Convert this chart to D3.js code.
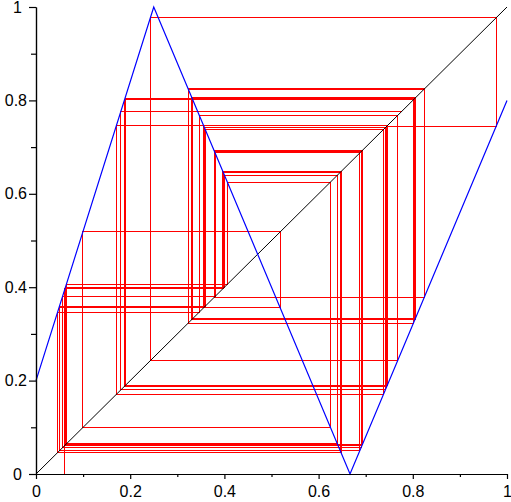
<!DOCTYPE html>
<html>
<head>
<meta charset="utf-8">
<script src="https://cdn.jsdelivr.net/npm/d3@7"></script>
<style>
  body { margin: 0; background: #fff; }
  svg { display: block; }
</style>
</head>
<body>
<div id="chart"></div>
<script>
var width = 511,
  height = 502;

// iterates x0, x1, x2 ...
var orbit = [
  0.0615, 0.3969, 0.6476, 0.0459, 0.3468, 0.7678, 0.2428, 0.9770, 0.7448, 0.1879,
  0.8013, 0.3231, 0.8246, 0.3790, 0.6904, 0.0563, 0.3802, 0.6875, 0.0498, 0.3594,
  0.7376, 0.1704, 0.7454, 0.1890, 0.8048, 0.3314, 0.8046, 0.3311, 0.8053, 0.3328,
  0.8013, 0.3231, 0.8246, 0.3780, 0.6928, 0.0625, 0.4001, 0.6398, 0.0646, 0.4066,
  0.6252, 0.0995, 0.5183, 0.3561, 0.7454, 0.1890, 0.8046, 0.3311, 0.8053, 0.3328,
  0.8013, 0.3232, 0.8244, 0.3785, 0.6916, 0.0617, 0.3974, 0.6462, 0.0493, 0.3576,
  0.7417, 0.1802, 0.7766
];

// the map (blue) : corner points
var mapX = [0, 0.25, 0.6667, 1];
var mapY = [0.2, 1, 0, 0.8];

// y = x
var diagX = [0, 1];
var diagY = [0, 1];

var majorTicks = [0, 0.2, 0.4, 0.6, 0.8, 1];
var tickLabels = ["0", "0.2", "0.4", "0.6", "0.8", "1"];
var minorTicks = [0.1, 0.3, 0.5, 0.7, 0.9];

var x = d3.scaleLinear().domain([0, 1]).range([36, 507]);
var y = d3.scaleLinear().domain([0, 1]).range([474, 7]);

var svg = d3.select("#chart")
  .append("svg")
  .attr("width", width)
  .attr("height", height);

var line = d3.line()
  .x(function (d) { return x(d[0]); })
  .y(function (d) { return y(d[1]); });

// cobweb: up from the axis, then stair steps via the diagonal
var web = [[orbit[0], 0]];
orbit.forEach(function (v, i) {
  if (i == 0) return;
  web.push([orbit[i - 1], v]);
  web.push([v, v]);
});

svg.append("path")
  .datum(web)
  .attr("d", line)
  .attr("fill", "none")
  .attr("stroke", "#ff0000")
  .attr("stroke-width", 1)
  .attr("shape-rendering", "crispEdges");

svg.append("path")
  .datum(diagX.map(function (d, i) { return [d, diagY[i]]; }))
  .attr("d", line)
  .attr("fill", "none")
  .attr("stroke", "#000")
  .attr("stroke-width", 1);

svg.append("path")
  .datum(mapX.map(function (d, i) { return [d, mapY[i]]; }))
  .attr("d", line)
  .attr("fill", "none")
  .attr("stroke", "#0000ff")
  .attr("stroke-width", 1.2);

// axes
function styleAxis(g) {
  g.attr("font-family", "Liberation Sans").attr("font-size", 16);
  g.selectAll("path, line").attr("stroke", "#000").attr("stroke-width", 1.2);
  g.selectAll("text").attr("fill", "#000");
}

svg.append("g")
  .attr("transform", "translate(0,474)")
  .call(d3.axisBottom(x).tickValues(minorTicks).tickSize(3).tickSizeOuter(0).tickFormat(""))
  .call(styleAxis);

svg.append("g")
  .attr("transform", "translate(0,474)")
  .call(d3.axisBottom(x).tickValues(majorTicks).tickSize(5).tickSizeOuter(0).tickPadding(7)
    .tickFormat(function (d, i) { return tickLabels[i]; }))
  .call(styleAxis);

svg.append("g")
  .attr("transform", "translate(36,0)")
  .call(d3.axisLeft(y).tickValues(minorTicks).tickSize(5).tickSizeOuter(0).tickFormat(""))
  .call(styleAxis);

svg.append("g")
  .attr("transform", "translate(36,0)")
  .call(d3.axisLeft(y).tickValues(majorTicks).tickSize(7).tickSizeOuter(0).tickPadding(2)
    .tickFormat(function (d, i) { return tickLabels[i]; }))
  .call(styleAxis)
  .selectAll("text")
  .attr("x", function (d, i) { return tickLabels[i].length == 1 ? -14 : -9; });
</script>
</body>
</html>
